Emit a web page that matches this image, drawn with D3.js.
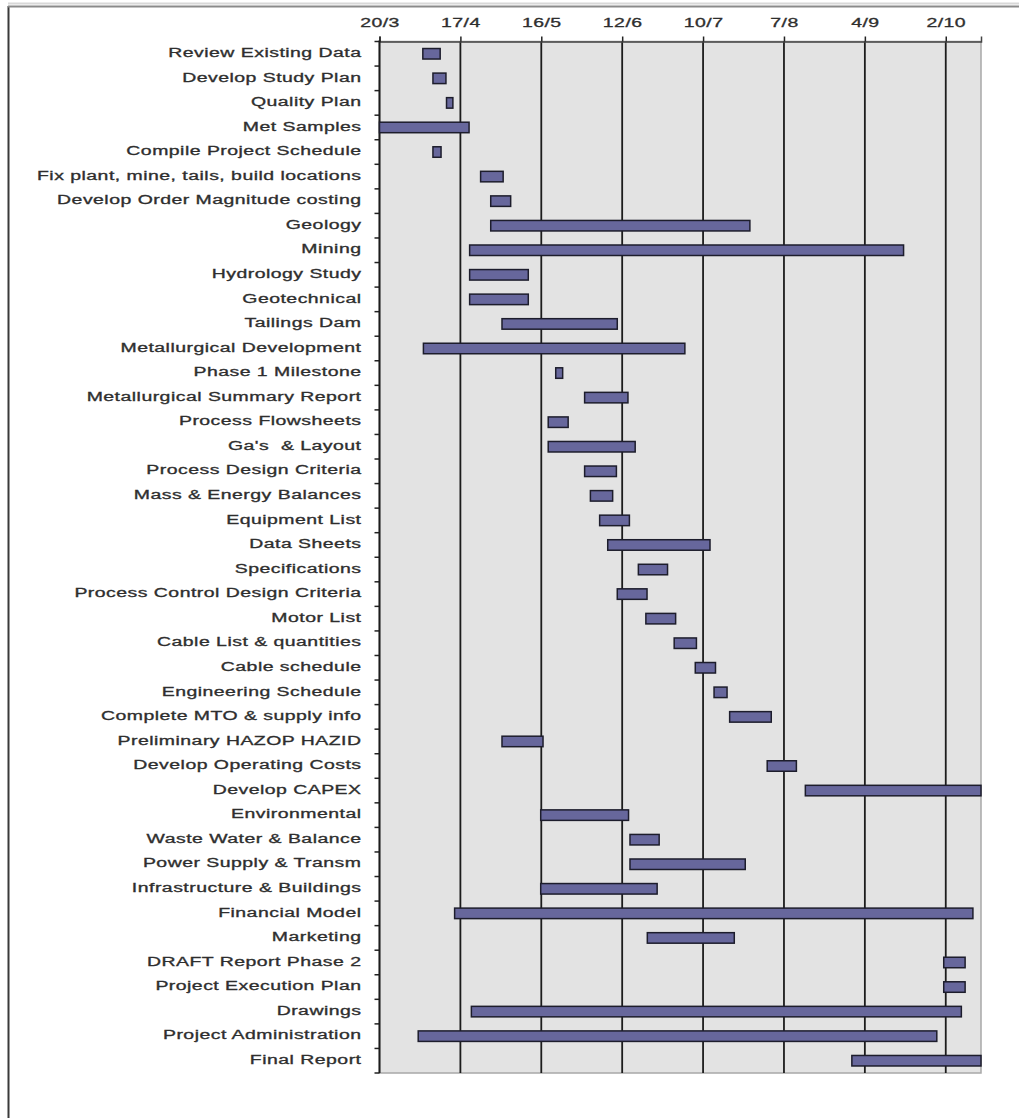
<!DOCTYPE html>
<html>
<head>
<meta charset="utf-8">
<script src="https://cdn.jsdelivr.net/npm/d3@7"></script>
<style>
  html, body { margin: 0; padding: 0; background: #fff; }
  svg { display: block; }
  text { font-family: "Liberation Sans", Arial, sans-serif; white-space: pre; }
</style>
</head>
<body>
<svg id="chart" width="1019" height="1118"></svg>
<script>
// Project schedule: activities, start day and finish day (days after 20/3)
const tasks = [
  "Review Existing Data", "Develop Study Plan", "Quality Plan", "Met Samples",
  "Compile Project Schedule", "Fix plant, mine, tails, build locations",
  "Develop Order Magnitude costing", "Geology", "Mining", "Hydrology Study",
  "Geotechnical", "Tailings Dam", "Metallurgical Development", "Phase 1 Milestone",
  "Metallurgical Summary Report", "Process Flowsheets", "Ga's  & Layout",
  "Process Design Criteria", "Mass & Energy Balances", "Equipment List",
  "Data Sheets", "Specifications", "Process Control Design Criteria", "Motor List",
  "Cable List & quantities", "Cable schedule", "Engineering Schedule",
  "Complete MTO & supply info", "Preliminary HAZOP HAZID", "Develop Operating Costs",
  "Develop CAPEX", "Environmental", "Waste Water & Balance", "Power Supply & Transm",
  "Infrastructure & Buildings", "Financial Model", "Marketing", "DRAFT Report Phase 2",
  "Project Execution Plan", "Drawings", "Project Administration", "Final Report"
];
const startDay = [
  15, 18.5, 23.2, 0, 18.5, 35, 38.5, 38.5, 31.2, 31.2,
  31.2, 42.4, 15.2, 61, 71, 58.4, 58.4, 71, 73, 76.2,
  79, 89.6, 82.3, 92.2, 102, 109.3, 115.8, 121.2, 42.4, 134.2,
  147.4, 55.8, 86.7, 86.7, 55.8, 26, 92.7, 195.3, 195.3, 31.8,
  13.4, 163.5
];
const finishDay = [
  21, 23, 25.4, 31, 21.3, 42.8, 45.4, 128.2, 181.4, 51.5,
  51.5, 82.3, 105.7, 63.4, 86, 65.3, 88.5, 82, 80.7, 86.5,
  114.4, 99.7, 92.6, 102.5, 109.7, 116.3, 120.3, 135.6, 56.6, 144.3,
  208.2, 86.2, 96.8, 126.6, 96.1, 205.4, 122.8, 202.7, 202.7, 201.4,
  192.9, 208.8
];
const tickDays = [0, 28, 56, 84, 112, 140, 168, 196];
const tickLabels = ["20/3", "17/4", "16/5", "12/6", "10/7", "7/8", "4/9", "2/10"];
const axisEndDay = 208.2;

const svg = d3.select("#chart");
const plot = { left: 379.5, right: 981, top: 41.5, bottom: 1073 };
const stretch = 1.62;     // wide lettering used for all chart text
const barH = 10.5;
const textColor = "#2e2e2e";

// page frame
svg.append("line").attr("x1", 8.5).attr("x2", 8.5).attr("y1", 6).attr("y2", 1118)
  .attr("stroke", "#3a3a3a").attr("stroke-width", 2);
svg.append("line").attr("x1", 8).attr("x2", 1019).attr("y1", 6.5).attr("y2", 6.5)
  .attr("stroke", "#8a8a8a").attr("stroke-width", 2);
svg.append("line").attr("x1", 8).attr("x2", 1019).attr("y1", 3.5).attr("y2", 3.5)
  .attr("stroke", "#d8d8d8").attr("stroke-width", 2);

const x = d3.scaleLinear().domain([0, axisEndDay]).range([plot.left, plot.right]).clamp(true);
const y = d3.scaleBand().domain(tasks).range([plot.top, plot.bottom]).padding(0);

// plot background
svg.append("rect")
  .attr("x", plot.left).attr("y", plot.top)
  .attr("width", plot.right - plot.left).attr("height", plot.bottom - plot.top)
  .attr("fill", "#e3e3e3").attr("stroke", "#a8a8a8").attr("stroke-width", 1.5);

// vertical gridlines
svg.append("g").selectAll("line").data(tickDays.slice(1)).join("line")
  .attr("x1", d => x(d)).attr("x2", d => x(d))
  .attr("y1", plot.top).attr("y2", plot.bottom)
  .attr("stroke", "#1c1c1c").attr("stroke-width", 1.8);

// top date axis
const xAxis = d3.axisTop(x).tickValues(tickDays).tickSize(5).tickFormat((d, i) => tickLabels[i]);
const gx = svg.append("g").attr("transform", `translate(0,${plot.top})`).call(xAxis);
gx.attr("font-family", null).attr("font-size", null);
gx.select(".domain").attr("stroke", "#444").attr("stroke-width", 1.5);
gx.selectAll(".tick line").attr("stroke", "#222").attr("stroke-width", 1.5);
gx.selectAll(".tick text")
  .attr("x", 0).attr("y", 0).attr("dy", 0)
  .attr("font-size", 12).attr("fill", textColor)
  .attr("stroke", textColor).attr("stroke-width", 0.3)
  .attr("letter-spacing", 0.3)
  .attr("text-anchor", "middle")
  .attr("transform", `translate(0,-14.8) scale(${stretch},1)`);

// left task axis: ticks on row boundaries
const boundaries = tasks.map(t => y(t)).concat([plot.bottom]);
svg.append("g").selectAll("line").data(boundaries).join("line")
  .attr("x1", plot.left - 5).attr("x2", plot.left)
  .attr("y1", d => d).attr("y2", d => d)
  .attr("stroke", "#222").attr("stroke-width", 1.5);
svg.append("line")
  .attr("x1", plot.left).attr("x2", plot.left).attr("y1", plot.top - 1).attr("y2", plot.bottom)
  .attr("stroke", "#1c1c1c").attr("stroke-width", 2);

// task labels
svg.append("g").selectAll("text").data(tasks).join("text")
  .attr("transform", d => `translate(361.5,${y(d) + y.bandwidth() / 2 + 3.2}) scale(${stretch},1)`)
  .attr("text-anchor", "end")
  .attr("font-size", 12)
  .attr("letter-spacing", 0.3)
  .attr("fill", textColor)
  .attr("stroke", textColor)
  .attr("stroke-width", 0.3)
  .text(d => d);

// task bars
svg.append("g").selectAll("rect").data(tasks).join("rect")
  .attr("x", (d, i) => x(startDay[i]))
  .attr("y", d => y(d) + (y.bandwidth() - barH) / 2)
  .attr("width", (d, i) => Math.max(0, x(finishDay[i]) - x(startDay[i])))
  .attr("height", barH)
  .attr("fill", "#67679c")
  .attr("stroke", "#1d1d2c")
  .attr("stroke-width", 1.5);
</script>
</body>
</html>
